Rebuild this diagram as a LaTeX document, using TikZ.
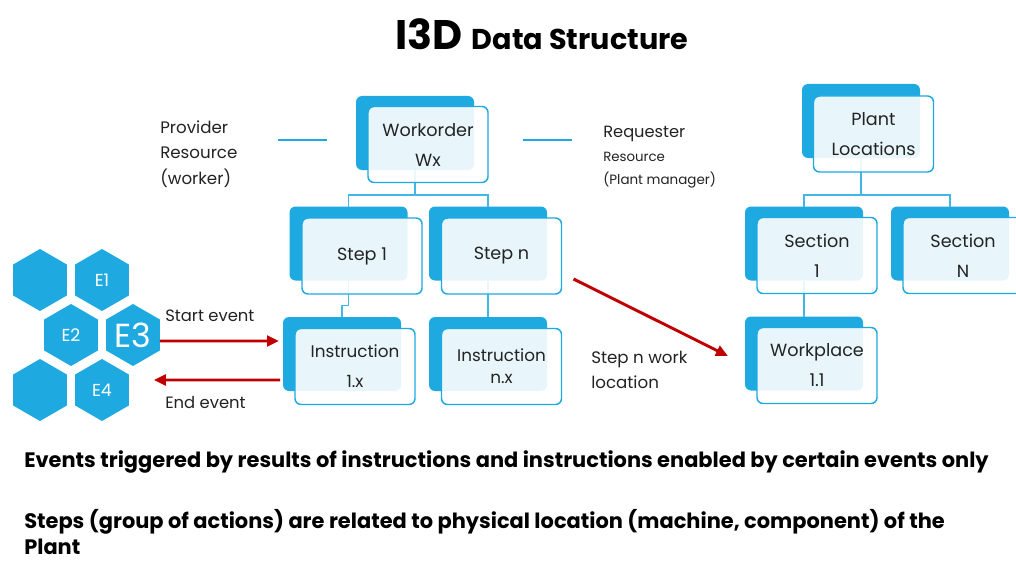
\documentclass[tikz,border=0pt]{standalone}
\usepackage{fontspec}
\setmainfont{Poppins}
\usetikzlibrary{shapes.geometric,arrows.meta,calc}
\definecolor{hexblue}{RGB}{30,170,225}
\definecolor{arrred}{RGB}{192,0,0}
\definecolor{txt}{RGB}{35,35,35}
\begin{document}
\begin{tikzpicture}[x=0.75pt,y=-0.75pt,
  backbox/.style={fill=hexblue, rounded corners=4.5pt, inner sep=0pt, outer sep=0pt,
    minimum width=88.5pt, minimum height=55.5pt},
  frontbox/.style={draw=hexblue, line width=1.1pt, fill=white, fill opacity=0.9, text opacity=1,
    rounded corners=4.5pt, inner sep=0pt, outer sep=0pt, align=center, text=txt,
    minimum width=90pt, minimum height=57pt, font=\fontsize{13.2}{22.5}\selectfont},
  conn/.style={draw=hexblue!85!white, line width=1.3pt},
  hex/.style={regular polygon, regular polygon sides=6, shape border rotate=30,
    minimum size=46.5pt, inner sep=0pt, outer sep=0pt, fill=hexblue, text=white,
    font=\fontsize{13}{15}\selectfont},
  redarrow/.style={draw=arrred, line width=2.2pt, -{Triangle[length=9pt,width=8pt]}},
  lbl/.style={anchor=west, align=left, text=txt, inner sep=0pt},
  bottomtxt/.style={anchor=base west, inner sep=0pt, text=black, font=\fontsize{15.7}{20}\selectfont\bfseries},
  bluebar/.style={draw=hexblue, line width=2pt}
]
\clip (0,0) rectangle (1016,563);
\fill[white] (0,0) rectangle (1016,563);

% title
\node[text=black, inner sep=0pt] (title) at (542,34)
  {\fontsize{31}{34}\selectfont\bfseries I3D \fontsize{21.5}{34}\selectfont Data Structure};

% back boxes
\node[backbox] (wo-b) at (415,133) {};
\node[backbox] (s1-b) at (348.5,243.5) {};
\node[backbox] (sn-b) at (488,243.5) {};
\node[backbox] (i1-b) at (342,354) {};
\node[backbox] (inx-b) at (488,354) {};
\node[backbox] (pl-b) at (861,121) {};
\node[backbox] (sc1-b) at (804,243.5) {};
\node[backbox] (scN-b) at (950,243.5) {};
\node[backbox] (wp-b) at (804,353.5) {};

% connectors
\draw[conn] (wo-b.south) -- ++(0,25) coordinate (wj);
\draw[conn] (s1-b.north) |- (wj) -| (sn-b.north);
\draw[conn] (s1-b.south) -- ++(0,25) -| (i1-b.north);
\draw[conn] (sn-b.south) -- (inx-b.north);
\draw[conn] (pl-b.south) -- ++(0,37) coordinate (pj);
\draw[conn] (sc1-b.north) |- (pj) -| (scN-b.north);
\draw[conn] (sc1-b.south) -- (wp-b.north);

% front boxes
\node[frontbox] (wo) at (428,144.5) {Workorder\\Wx};
\node[frontbox] (s1) at (362,256) {Step 1};
\node[frontbox] (sn) at (501.5,256) {Step n};
\node[frontbox, font=\fontsize{12.6}{22.5}\selectfont] (i1) at (355,366.5) {Instruction\\1.x};
\node[frontbox, font=\fontsize{12.6}{16.5}\selectfont] (inx) at (501.5,366.5) {Instruction\\n.x};
\node[frontbox] (pl) at (873.5,134) {Plant\\Locations};
\node[frontbox] (sc1) at (817,255.5) {Section\\1};
\node[frontbox] (scN) at (963,255.5) {Section\\N};
\node[frontbox] (wp) at (817,365.5) {Workplace\\1.1};

% resource labels
\node[lbl, font=\fontsize{12.5}{19}\selectfont] (prov) at (160,154) {Provider\\Resource\\(worker)};
\coordinate (pb1) at (278,140);
\coordinate (pb2) at (327,140);
\draw[bluebar] (pb1) -- (pb2);
\coordinate (rb1) at (523,140);
\coordinate (rb2) at (572,140);
\draw[bluebar] (rb1) -- (rb2);
\node[lbl, font=\fontsize{12.2}{17}\selectfont] (req1) at (603,134) {Requester};
\node[lbl, font=\fontsize{10}{17}\selectfont] (req2) at (603,157) {Resource};
\node[lbl, font=\fontsize{10.1}{17}\selectfont] (req3) at (603,180) {(Plant manager)};

% hexagons
\node[hex] (h0) at (40,280) {};
\node[hex] (e1) at (102,280) {E1};
\node[hex] (e2) at (71,335) {E2};
\node[hex, font=\fontsize{25}{28}\selectfont] (e3) at (133,335) {E3};
\node[hex] (h5) at (40,390) {};
\node[hex] (e4) at (102,390) {E4};

% event arrows
\draw[redarrow] ([shift={(0,6)}]e3.east) -- ([shift={(-4,-13)}]i1-b.west);
\draw[redarrow] ([shift={(-3,26)}]i1-b.west) -- ([shift={(25,-10)}]e4.east);
\node[lbl, font=\fontsize{12.3}{15}\selectfont] (se) at (165,316) {Start event};
\node[lbl, font=\fontsize{12.3}{15}\selectfont] (ee) at (165,403) {End event};

% location arrow
\draw[redarrow] ([shift={(12,-15)}]sn.south east) -- ([shift={(-17,2.5)}]wp-b.west);
\node[lbl, font=\fontsize{12.5}{19}\selectfont] (loc) at (591,370) {Step n work\\location};

% bottom text
\node[bottomtxt] (t1) at (24,467)
  {Events triggered by results of instructions and instructions enabled by certain events only};
\node[bottomtxt] (t2) at (24,528)
  {Steps (group of actions) are related to physical location (machine, component) of the};
\node[bottomtxt] (t3) at (24,554) {Plant};
\end{tikzpicture}
\end{document}
